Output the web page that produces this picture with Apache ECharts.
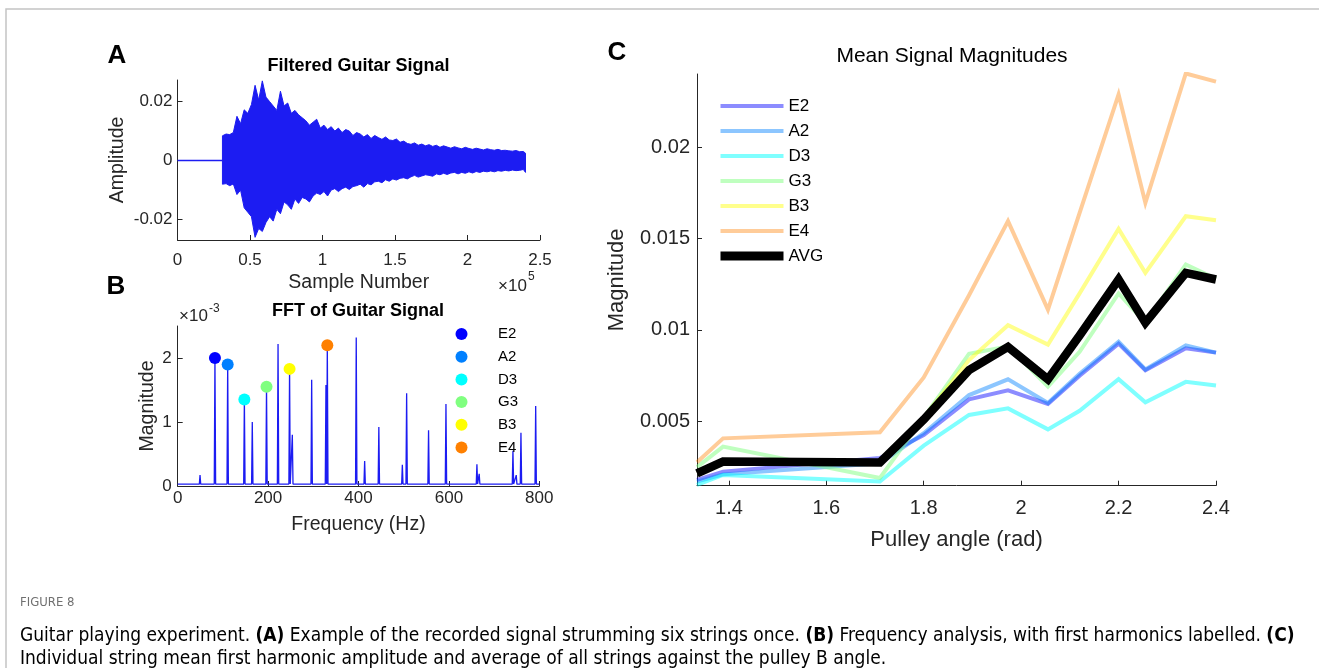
<!DOCTYPE html>
<html>
<head>
<meta charset="utf-8">
<script src="https://cdn.jsdelivr.net/npm/echarts@6/dist/echarts.min.js"></script>
<style>
  html, body { margin: 0; padding: 0; background: #fff; }
  #main { width: 1319px; height: 668px; }
</style>
</head>
<body>
<div id="main"></div>
<script>
// ---- (A) filtered guitar signal: envelope, sample number in 1e5 ----
var quietX = [0, 0.31];
var quietY = [0, 0];
var waveX = [
  0.310, 0.335, 0.360, 0.385, 0.410, 0.435, 0.460, 0.485, 0.510, 0.535,
  0.560, 0.585, 0.610, 0.635, 0.660, 0.685, 0.710, 0.735, 0.760, 0.785,
  0.810, 0.835, 0.860, 0.885, 0.910, 0.935, 0.960, 0.985, 1.010, 1.035,
  1.060, 1.085, 1.110, 1.135, 1.160, 1.185, 1.210, 1.235, 1.260, 1.285,
  1.310, 1.335, 1.360, 1.385, 1.410, 1.435, 1.460, 1.485, 1.510, 1.535,
  1.560, 1.585, 1.610, 1.635, 1.660, 1.685, 1.710, 1.735, 1.760, 1.785,
  1.810, 1.835, 1.860, 1.885, 1.910, 1.935, 1.960, 1.985, 2.010, 2.035,
  2.060, 2.085, 2.110, 2.135, 2.160, 2.185, 2.210, 2.235, 2.260, 2.285,
  2.310, 2.335, 2.360, 2.385, 2.400
];
var waveUp = [
  0.0084, 0.0090, 0.0088, 0.0095, 0.0150, 0.0125, 0.0172, 0.0160, 0.0190, 0.0255,
  0.0205, 0.0270, 0.0215, 0.0200, 0.0185, 0.0170, 0.0235, 0.0185, 0.0195, 0.0160,
  0.0170, 0.0155, 0.0145, 0.0135, 0.0120, 0.0130, 0.0140, 0.0110, 0.0120, 0.0105,
  0.0115, 0.0100, 0.0110, 0.0095, 0.0105, 0.0100, 0.0085, 0.0095, 0.0090, 0.0080,
  0.0088, 0.0075, 0.0085, 0.0078, 0.0072, 0.0080, 0.0070, 0.0068, 0.0073, 0.0062,
  0.0066, 0.0058, 0.0055, 0.0060, 0.0052, 0.0056, 0.0050, 0.0054, 0.0048, 0.0052,
  0.0045, 0.0050, 0.0046, 0.0042, 0.0047, 0.0043, 0.0040, 0.0045, 0.0041, 0.0038,
  0.0042, 0.0039, 0.0036, 0.0040, 0.0037, 0.0035, 0.0038, 0.0034, 0.0035, 0.0033,
  0.0032, 0.0034, 0.0030, 0.0031, 0.0025
];
var waveLo = [
  -0.0080, -0.0078, -0.0085, -0.0079, -0.0115, -0.0100, -0.0160, -0.0175, -0.0190, -0.0260,
  -0.0230, -0.0240, -0.0210, -0.0190, -0.0205, -0.0165, -0.0180, -0.0140, -0.0150, -0.0165,
  -0.0130, -0.0145, -0.0125, -0.0130, -0.0140, -0.0120, -0.0110, -0.0115, -0.0105, -0.0120,
  -0.0100, -0.0095, -0.0105, -0.0095, -0.0090, -0.0098, -0.0088, -0.0085, -0.0080, -0.0090,
  -0.0078, -0.0082, -0.0072, -0.0070, -0.0075, -0.0065, -0.0070, -0.0062, -0.0066, -0.0060,
  -0.0058, -0.0062, -0.0055, -0.0050, -0.0056, -0.0052, -0.0048, -0.0050, -0.0053, -0.0045,
  -0.0048, -0.0043, -0.0047, -0.0042, -0.0040, -0.0045, -0.0040, -0.0043, -0.0038, -0.0042,
  -0.0037, -0.0040, -0.0036, -0.0038, -0.0035, -0.0038, -0.0034, -0.0036, -0.0033, -0.0035,
  -0.0032, -0.0034, -0.0033, -0.0030, -0.0040
];
var ticksAx = [0, 0.5, 1, 1.5, 2, 2.5];
var ticksAy = [-0.02, 0, 0.02];

// ---- (B) FFT peaks, magnitude in 1e-3 ----
var peakHz = [49.4, 82.4, 110.6, 147.5, 165, 196.5, 222, 247.5, 253.6, 296.4, 328, 331,
  395, 413.6, 445, 497, 506.5, 555, 593.5, 662, 667, 741.7, 749, 759.4, 792];
var peakMag = [0.17, 2.0, 1.9, 1.35, 1.0, 1.55, 2.22, 1.83, 0.8, 1.66, 1.58, 2.2,
  2.32, 0.39, 0.92, 0.33, 1.45, 0.87, 1.28, 0.34, 0.19, 0.55, 0.17, 0.83, 1.25];
var noiseFloor = 0.03;
var noteNames = ['E2', 'A2', 'D3', 'G3', 'B3', 'E4'];
var noteHz = [82.4, 110.6, 147.5, 196.5, 247.5, 331];
var noteMag = [2.0, 1.9, 1.35, 1.55, 1.83, 2.2];
var ticksBx = [0, 200, 400, 600, 800];
var ticksBy = [0, 1, 2];

// ---- (C) mean first harmonic magnitude vs pulley angle ----
var angle = [1.3345, 1.388, 1.71, 1.8, 1.893, 1.973, 2.055, 2.12, 2.2, 2.255, 2.338, 2.4];
var magE2 = [0.0018, 0.00225, 0.0030, 0.00425, 0.0062, 0.0067, 0.00595, 0.0075, 0.00925, 0.0078, 0.0090, 0.00876];
var magA2 = [0.0017, 0.0021, 0.0027, 0.00435, 0.00644, 0.0073, 0.0060, 0.0076, 0.00935, 0.00784, 0.00916, 0.00876];
var magD3 = [0.00153, 0.00207, 0.00171, 0.00367, 0.00535, 0.00571, 0.00456, 0.00558, 0.00731, 0.00604, 0.00716, 0.00696];
var magG3 = [0.0025, 0.00362, 0.0019, 0.0052, 0.0087, 0.0091, 0.0069, 0.0088, 0.0120, 0.0104, 0.01358, 0.0128];
var magB3 = [0.0022, 0.0028, 0.0027, 0.0052, 0.00835, 0.01026, 0.0092, 0.0120, 0.01553, 0.01312, 0.01622, 0.0160];
var magE4 = [0.00276, 0.00407, 0.0044, 0.0074, 0.0119, 0.01595, 0.01111, 0.0164, 0.02288, 0.01695, 0.02403, 0.02358];
var magAvg = [0.00216, 0.0028, 0.00275, 0.0051, 0.0078, 0.00907, 0.0073, 0.0097, 0.01276, 0.0104, 0.01312, 0.01276];
var ticksCx = [1.4, 1.6, 1.8, 2, 2.2, 2.4];
var ticksCy = [0.005, 0.01, 0.015, 0.02];

var FONT = 'Liberation Sans, Arial, sans-serif';
var CAPFONT = 'Liberation Sans Narrow, DejaVu Sans Condensed, sans-serif';
var AXIS = '#262626';
var BLUE = '#1c1cf2';
var noteColors = ['#0000ff', '#0080ff', '#00ffff', '#80ff80', '#ffff00', '#ff8000'];
var lineColors = ['rgba(0,0,255,0.45)', 'rgba(0,128,255,0.45)', 'rgba(0,255,255,0.5)',
  'rgba(128,255,128,0.5)', 'rgba(255,255,0,0.45)', 'rgba(255,128,0,0.4)'];

function pairs(xs, ys) {
  return xs.map(function (x, i) { return [x, ys[i]]; });
}

function axis(grid, min, max, ticks, labelSize, margin, name, nameSize, nameGap) {
  return {
    gridIndex: grid,
    type: 'value',
    min: min,
    max: max,
    name: name,
    nameLocation: 'middle',
    nameGap: nameGap,
    nameTextStyle: { fontSize: nameSize, color: AXIS, fontFamily: FONT },
    axisLine: { onZero: false, lineStyle: { color: AXIS, width: 1 } },
    axisTick: { inside: true, length: 5, customValues: ticks, lineStyle: { color: AXIS } },
    axisLabel: { customValues: ticks, fontSize: labelSize, color: AXIS, margin: margin, fontFamily: FONT },
    splitLine: { show: false }
  };
}

// fft trace: thin spike at every peak on top of the noise floor
var fftLine = [[0, noiseFloor]];
peakHz.forEach(function (f, i) {
  fftLine.push([f - 1.5, noiseFloor], [f, peakMag[i]], [f + 1.5, noiseFloor]);
});
fftLine.push([800, noiseFloor]);

var series = [
  {
    type: 'line', xAxisIndex: 0, yAxisIndex: 0, data: pairs(quietX, quietY),
    symbol: 'none', lineStyle: { color: BLUE, width: 1.5 }, silent: true
  },
  {
    type: 'custom', xAxisIndex: 0, yAxisIndex: 0, silent: true,
    data: waveX.map(function (x, i) { return [x, waveUp[i], waveLo[i]]; }),
    encode: { x: 0, y: [1, 2] },
    renderItem: function (params, api) {
      if (params.dataIndex !== 0) return null;
      var pts = [];
      for (var i = 0; i < waveX.length; i++) pts.push(api.coord([waveX[i], waveUp[i]]));
      for (var j = waveX.length - 1; j >= 0; j--) pts.push(api.coord([waveX[j], waveLo[j]]));
      return {
        type: 'polygon',
        shape: { points: pts },
        style: { fill: BLUE, stroke: BLUE, lineWidth: 1 }
      };
    }
  },
  {
    type: 'line', xAxisIndex: 1, yAxisIndex: 1, data: fftLine,
    symbol: 'none', lineStyle: { color: BLUE, width: 1.3 }, silent: true
  }
];

noteNames.forEach(function (n, i) {
  series.push({
    name: 'B:' + n,
    type: 'scatter', xAxisIndex: 1, yAxisIndex: 1,
    data: [[noteHz[i], noteMag[i]]],
    symbolSize: 12, z: 5,
    itemStyle: { color: noteColors[i], opacity: 1 }
  });
});

var cMags = [magE2, magA2, magD3, magG3, magB3, magE4];
noteNames.forEach(function (n, i) {
  series.push({
    name: n, type: 'line', xAxisIndex: 2, yAxisIndex: 2,
    data: pairs(angle, cMags[i]), symbol: 'none', color: lineColors[i],
    lineStyle: { color: lineColors[i], width: 4, join: 'miter' }
  });
});
series.push({
  name: 'AVG', type: 'line', xAxisIndex: 2, yAxisIndex: 2,
  data: pairs(angle, magAvg), symbol: 'none', color: '#000', z: 3,
  lineStyle: { color: '#000', width: 8.5, join: 'miter' }
});

function txt(x, y, s, font, align, fill) {
  return {
    type: 'text', silent: true,
    style: { x: x, y: y, text: s, font: font, textAlign: align || 'left', textVerticalAlign: 'middle', fill: fill || '#000' }
  };
}

var capRich = {
  n: { fontFamily: CAPFONT, fontSize: 19, color: '#6b6b6b' },
  b: { fontFamily: CAPFONT, fontSize: 19, color: '#6b6b6b', fontWeight: 'bold' }
};

var chart = echarts.init(document.getElementById('main'), null, { renderer: 'canvas' });

var option = {
  backgroundColor: '#fff',
  animation: false,
  textStyle: { fontFamily: FONT },
  grid: [
    { left: 177.5, top: 80, width: 362.5, height: 160 },
    { left: 177.7, top: 326, width: 361.6, height: 160 },
    { left: 697, top: 74, width: 519, height: 411.7 }
  ],
  xAxis: [
    axis(0, 0, 2.5, ticksAx, 17, 12, 'Sample Number', 19.5, 33),
    axis(1, 0, 800, ticksBx, 17, 4, 'Frequency (Hz)', 19.5, 29),
    axis(2, 1.3345, 2.4, ticksCx, 20, 13, 'Pulley angle (rad)', 22, 43)
  ],
  yAxis: [
    axis(0, -0.0269, 0.0273, ticksAy, 17, 5, 'Amplitude', 19.5, 50),
    axis(1, 0, 2.5, ticksBy, 17, 6, 'Magnitude', 19.5, 20),
    axis(2, 0.00148, 0.0240, ticksCy, 20, 7, 'Magnitude', 22, 69)
  ],
  legend: [
    {
      data: noteNames.map(function (n) { return 'B:' + n; }),
      formatter: function (name) { return name.slice(2); },
      orient: 'vertical', left: 455.5, top: 326, padding: 0,
      icon: 'circle', itemWidth: 63, itemHeight: 12, itemGap: 6.7,
      selectedMode: false,
      textStyle: { fontSize: 15, lineHeight: 16, color: '#000', fontFamily: FONT }
    },
    {
      data: noteNames.map(function (n) { return { name: n }; }).concat([{ name: 'AVG', lineStyle: { width: 9 } }]),
      orient: 'vertical', left: 716, top: 97, padding: 0,
      itemWidth: 63, itemHeight: 10, itemGap: 7,
      lineStyle: { width: 4 },
      itemStyle: { opacity: 0 },
      selectedMode: false,
      textStyle: { fontSize: 17, lineHeight: 18, color: '#000', fontFamily: FONT }
    }
  ],
  graphic: [
    {
      type: 'polyline', silent: true,
      shape: { points: [[6, 668], [6, 9], [1319, 9]] },
      style: { stroke: '#c4c4c4', lineWidth: 1.5, fill: null }
    },
    txt(117, 56, 'A', 'bold 26px ' + FONT, 'center'),
    txt(116, 287, 'B', 'bold 26px ' + FONT, 'center'),
    txt(617, 53, 'C', 'bold 26px ' + FONT, 'center'),
    txt(358.5, 66, 'Filtered Guitar Signal', 'bold 18px ' + FONT, 'center'),
    txt(358, 311.5, 'FFT of Guitar Signal', 'bold 18px ' + FONT, 'center'),
    txt(952, 56, 'Mean Signal Magnitudes', '21px ' + FONT, 'center'),
    txt(498, 286, '\u00d710', '17px ' + FONT, 'left', AXIS),
    txt(528, 277, '5', '12px ' + FONT, 'left', AXIS),
    txt(179, 316.5, '\u00d710', '17px ' + FONT, 'left', AXIS),
    txt(209, 308.5, '-3', '12px ' + FONT, 'left', AXIS),
    txt(20, 603, 'FIGURE 8', '13px ' + CAPFONT, 'left', '#707070'),
    {
      type: 'text', silent: true,
      style: {
        x: 20, y: 636, textVerticalAlign: 'middle',
        text: '{n|Guitar playing experiment. }{b|(A)}{n| Example of the recorded signal strumming six strings once. }{b|(B)}{n| Frequency analysis, with first harmonics labelled. }{b|(C)}',
        rich: capRich
      }
    },
    {
      type: 'text', silent: true,
      style: {
        x: 20, y: 659, textVerticalAlign: 'middle',
        text: '{n|Individual string mean first harmonic amplitude and average of all strings against the pulley B angle.}',
        rich: capRich
      }
    }
  ],
  series: series
};

chart.setOption(option);
</script>
</body>
</html>
